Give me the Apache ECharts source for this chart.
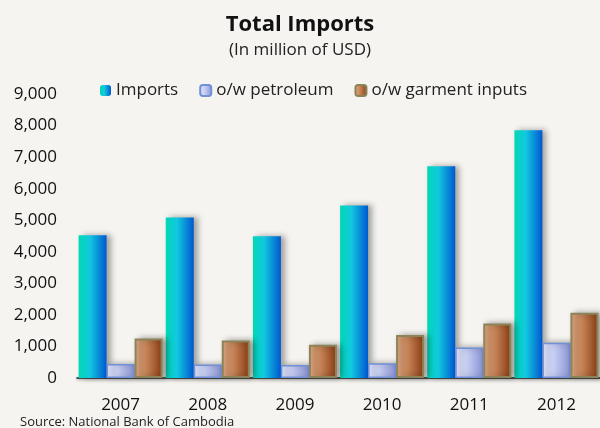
<!DOCTYPE html>
<html><head><meta charset="utf-8">
<script src="https://cdn.jsdelivr.net/npm/echarts@6/dist/echarts.min.js"></script>
<style>html,body{margin:0;padding:0;background:#f5f4f0}#c{width:600px;height:428px}</style>
</head><body><div id="c"></div>
<script>
var years = ['2007','2008','2009','2010','2011','2012'];
var imports = [4520, 5090, 4490, 5470, 6710, 7850];
var petroleum = [440, 430, 410, 465, 970, 1120];
var garment = [1255, 1190, 1055, 1360, 1730, 2065];
var seriesNames = ['Imports', 'o/w petroleum', 'o/w garment inputs'];
var FONT = '"Open Sans", sans-serif';
function grad(a, b, c) {
  var stops = c ? [{offset:0,color:a},{offset:0.4,color:b},{offset:1,color:c}] : [{offset:0,color:a},{offset:1,color:b}];
  return new echarts.graphic.LinearGradient(0,0,1,0,stops);
}
var chart = echarts.init(document.getElementById('c'));
var shadow = {shadowColor:'rgba(0,0,0,0.35)', shadowBlur:6, shadowOffsetX:4, shadowOffsetY:0};
chart.setOption({
  backgroundColor: '#f5f4f0',
  animation: false,
  title: [
    {text:'Total Imports', left:'center', top:9, textStyle:{fontFamily:FONT, fontSize:22, fontWeight:'bold', color:'#111'}},
    {text:'(In million of USD)', left:'center', top:37, textStyle:{fontFamily:FONT, fontSize:17, fontWeight:'normal', color:'#222'}},
    {text:'Source: National Bank of Cambodia', left:20, top:416, padding:0, textStyle:{fontFamily:FONT, fontSize:13, fontWeight:'normal', color:'#222'}}
  ],
  legend: {
    top: 82, left: 100, padding: 0, itemWidth: 11, itemHeight: 11, itemGap: 21,
    textStyle: {fontFamily: FONT, fontSize: 17, color: '#222'},
    data: seriesNames
  },
  grid: {left: 77, right: -9, top: 94, bottom: 50},
  xAxis: {
    type: 'category', data: years,
    axisLine: {lineStyle: {color: '#222', width: 1.5, shadowColor:'rgba(0,0,0,0.4)', shadowBlur:3, shadowOffsetY:1}},
    axisTick: {show: false},
    axisLabel: {fontFamily: FONT, fontSize: 17, color: '#111', margin: 19}
  },
  yAxis: {
    type: 'value', min: 0, max: 9000, interval: 1000,
    splitLine: {show: false},
    axisLine: {show: false}, axisTick: {show: false},
    axisLabel: {fontFamily: FONT, fontSize: 17, color: '#111', margin: 20,
      formatter: function(v){ return v.toLocaleString('en-US'); }}
  },
  series: [
    {name: seriesNames[0], type: 'bar', data: imports, barWidth: 28, barGap: '0%',
     itemStyle: Object.assign({color: grad('#00d8b4', '#12c8e0', '#0058d0')}, shadow)},
    {name: seriesNames[1], type: 'bar', data: petroleum, barWidth: 28, barGap: '0%',
     itemStyle: Object.assign({color: grad('#e0e6ff', '#c8d0f4', '#8a92d4'), borderColor: '#7090d8', borderWidth: 1.5}, shadow)},
    {name: seriesNames[2], type: 'bar', data: garment, barWidth: 28, barGap: '0%',
     itemStyle: Object.assign({color: grad('#e4ae88', '#c9875a', '#883a12'), borderColor: '#8c8458', borderWidth: 2}, shadow)}
  ]
});
</script></body></html>
